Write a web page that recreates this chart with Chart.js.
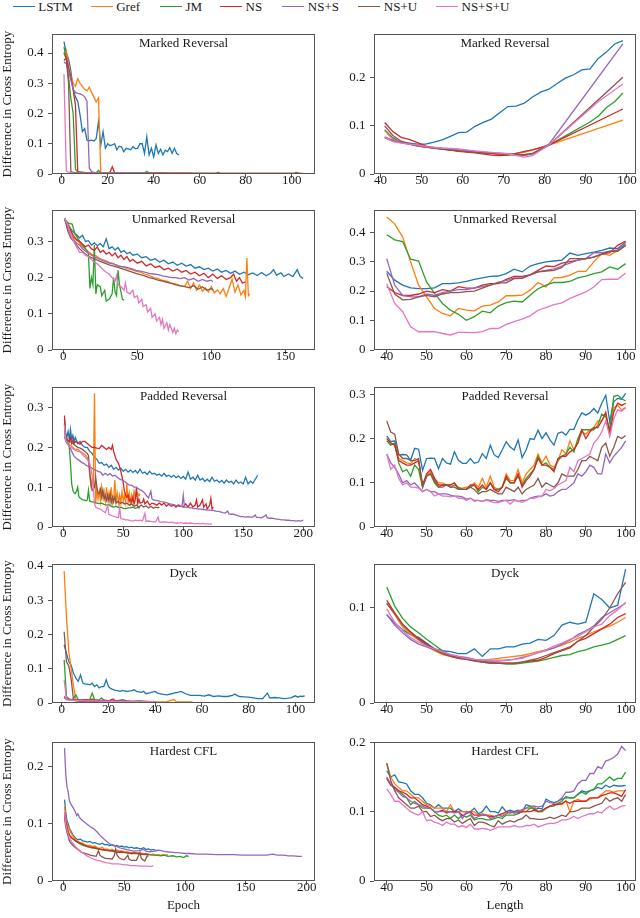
<!DOCTYPE html>
<html>
<head>
<meta charset="utf-8">
<script src="https://cdn.jsdelivr.net/npm/chart.js@4.4.1/dist/chart.umd.min.js"></script>
<style>
  html, body { margin: 0; background: #fff; }
  body { position: relative; width: 640px; height: 918px; overflow: hidden; font-family: "Liberation Serif", serif; color: #1a1a1a; }
  canvas { position: absolute; }
  .key { position: absolute; top: 0; height: 14px; font-size: 13px; line-height: 14px; white-space: nowrap; }
  .key i { position: absolute; top: 6px; width: 22px; height: 0; border-top: 1.4px solid; }
  .key span { position: absolute; left: 25.5px; top: 0; }
</style>
</head>
<body>
<script>
const SERIES = ["LSTM", "Gref", "JM", "NS", "NS+S", "NS+U", "NS+S+U"];
const COLORS = ["#1f77b4", "#ff7f0e", "#2ca02c", "#d62728", "#9467bd", "#8c564b", "#e377c2"];

// lengths used by the right-hand panels
const LEN_1 = [40,41,42,43,44,45,46,47,48,49,50,51,52,53,54,55,56,57,58,59,60,61,62,63,64,65,66,67,68,69,70,
  71,72,73,74,75,76,77,78,79,80,81,82,83,84,85,86,87,88,89,90,91,92,93,94,95,96,97,98,99,100];
const LEN_2 = [40,42,44,46,48,50,52,54,56,58,60,62,64,66,68,70,72,74,76,78,80,82,84,86,88,90,92,94,96,98,100];

// tick labels
const Y_04 = [0, 0.1, 0.2, 0.3, 0.4];
const Y_03 = [0, 0.1, 0.2, 0.3];
const Y_02 = [0, 0.1, 0.2];
const Y_01 = [0, 0.1];
const X_EPOCH_100 = [0, 20, 40, 60, 80, 100];
const X_EPOCH_150 = [0, 50, 100, 150];
const X_EPOCH_200 = [0, 50, 100, 150, 200];
const X_LENGTH = [40, 50, 60, 70, 80, 90, 100];

// ---- Marked Reversal: [epoch, value] per series
const MARKED_EPOCH = [
  [[1,.438],[2,.40],[3,.38],[4,.34],[5,.28],[6,.255],[7,.24],[8,.195],[9,.14],[10,.15],[11,.112],[12,.11],[13,.112],[14,.109],[15,.117],[16,.173],[17,.096],[18,.14],[19,.085],[20,.1],[21,.094],[22,.096],[23,.1],[24,.08],[25,.092],[26,.09],[27,.074],[28,.085],[29,.083],[30,.08],[31,.09],[32,.084],[33,.085],[34,.1],[35,.1],[36,.068],[37,.123],[38,.063],[39,.085],[40,.057],[41,.096],[42,.068],[43,.082],[44,.063],[45,.079],[46,.074],[47,.087],[48,.068],[49,.085],[50,.068],[51,.063]],
  [[1,.40],[2,.41],[3,.36],[4,.325],[5,.30],[6,.29],[7,.315],[8,.30],[9,.29],[10,.28],[11,.275],[12,.287],[13,.27],[14,.255],[15,.238],[16,.252],[17,.004],[20,.004],[25,.003],[30,.002],[40,.002],[50,.002],[57,.002]],
  [[1,.42],[2,.385],[3,.32],[4,.25],[5,.2],[6,.015],[7,.008],[10,.005],[15,.004],[16,.012],[17,.004],[25,.003],[36,.003],[37,.009],[38,.003],[45,.002]],
  [[1,.375],[2,.385],[3,.35],[4,.32],[5,.28],[6,.227],[7,.006],[10,.004],[20,.004],[21,.006],[22,.024],[23,.004],[30,.003],[50,.003],[70,.002],[90,.002],[104,.002]],
  [[1,.37],[2,.365],[3,.34],[4,.31],[5,.28],[6,.27],[7,.267],[8,.265],[9,.262],[10,.255],[11,.24],[12,.02],[13,.008],[15,.004],[20,.003],[30,.003],[40,.002]],
  [[1,.40],[2,.38],[3,.30],[4,.008],[5,.005],[10,.003],[30,.003],[67,.002],[68,.005],[69,.002],[101,.002],[102,.005],[103,.002],[105,.002]],
  [[1,.33],[2,.01],[3,.006],[5,.004],[10,.003],[20,.003],[40,.002]]
];

// ---- Marked Reversal: [length, value] per series
const MARKED_LENGTH = [
  [[41,.092],[43,.075],[45,.066],[47,.064],[49,.062],[51,.062],[53,.066],[55,.071],[57,.078],[59,.086],[61,.087],[63,.099],[65,.107],[67,.114],[69,.127],[71,.14],[73,.141],[75,.147],[77,.16],[79,.17],[81,.176],[83,.188],[85,.199],[87,.206],[89,.216],[91,.218],[93,.24],[95,.253],[97,.27],[99,.277]],
  [[41,.09],[43,.072],[45,.066],[47,.062],[49,.058],[51,.056],[55,.052],[59,.048],[63,.045],[67,.042],[71,.04],[75,.045],[77,.05],[81,.06],[99,.112]],
  [[41,.075],[43,.069],[45,.065],[47,.062],[49,.059],[51,.056],[55,.052],[59,.048],[63,.045],[67,.043],[71,.041],[75,.04],[77,.042],[81,.06],[91,.108],[93,.12],[95,.138],[97,.15],[99,.168]],
  [[41,.107],[43,.088],[45,.076],[47,.072],[49,.065],[51,.058],[55,.052],[59,.047],[63,.044],[67,.039],[69,.038],[71,.039],[73,.043],[75,.047],[77,.05],[79,.055],[81,.06],[99,.135]],
  [[41,.077],[43,.07],[45,.065],[47,.062],[49,.058],[51,.056],[55,.053],[59,.05],[63,.047],[67,.044],[71,.042],[75,.038],[77,.042],[81,.062],[99,.27]],
  [[41,.1],[43,.08],[45,.068],[47,.063],[49,.059],[51,.056],[55,.051],[59,.048],[63,.045],[67,.043],[71,.04],[75,.04],[77,.043],[81,.06],[99,.201]],
  [[41,.076],[43,.067],[45,.064],[47,.062],[49,.06],[51,.057],[55,.054],[59,.052],[63,.048],[67,.045],[71,.042],[75,.035],[77,.038],[81,.06],[93,.15],[99,.187]]
];

// ---- Unmarked Reversal: [epoch, value]
const UNMARKED_EPOCH = [
  [[1,.362],[3,.35],[5,.335],[7,.325],[9,.318],[11,.31],[13,.317],[15,.3],[17,.302],[19,.29],[21,.296],[23,.288],[25,.294],[27,.285],[29,.307],[31,.28],[33,.285],[35,.276],[37,.283],[39,.27],[41,.275],[43,.266],[45,.27],[47,.262],[50,.265],[53,.255],[56,.258],[59,.248],[62,.252],[65,.243],[68,.248],[71,.238],[74,.243],[77,.234],[80,.24],[83,.232],[86,.236],[89,.226],[92,.23],[95,.222],[98,.226],[101,.218],[104,.224],[107,.215],[110,.22],[113,.212],[116,.218],[119,.209],[122,.215],[125,.208],[128,.213],[131,.206],[134,.214],[137,.205],[140,.212],[142,.222],[144,.207],[147,.213],[149,.203],[152,.21],[155,.203],[158,.222],[160,.203],[162,.198]],
  [[1,.362],[3,.35],[5,.33],[7,.31],[10,.3],[13,.285],[16,.275],[19,.265],[22,.26],[25,.252],[28,.248],[31,.242],[34,.238],[37,.232],[40,.23],[43,.225],[46,.222],[49,.218],[52,.215],[55,.21],[58,.206],[61,.2],[64,.198],[67,.192],[70,.19],[73,.185],[76,.183],[79,.178],[82,.176],[84,.19],[86,.17],[88,.185],[90,.165],[92,.18],[94,.162],[96,.172],[98,.16],[100,.175],[102,.158],[104,.166],[106,.155],[108,.17],[110,.148],[112,.172],[114,.195],[116,.16],[118,.18],[120,.152],[122,.165],[123,.148],[124,.254],[125,.15],[126,.155]],
  [[1,.362],[2,.355],[4,.35],[6,.348],[8,.32],[10,.307],[12,.295],[14,.285],[16,.275],[17,.265],[18,.17],[19,.2],[20,.18],[21,.29],[22,.155],[23,.18],[25,.175],[26,.15],[28,.165],[29,.135],[31,.14],[33,.155],[34,.2],[35,.16],[36,.15],[37,.22],[38,.18],[40,.14],[41,.138]],
  [[1,.362],[3,.345],[5,.33],[7,.315],[9,.305],[11,.3],[13,.292],[15,.285],[17,.29],[19,.28],[21,.275],[23,.285],[25,.27],[27,.275],[29,.265],[31,.27],[33,.26],[35,.268],[37,.255],[39,.262],[41,.25],[43,.258],[45,.245],[47,.25],[50,.24],[53,.245],[56,.232],[59,.238],[62,.228],[65,.232],[68,.222],[71,.226],[74,.218],[77,.224],[80,.215],[83,.22],[86,.21],[89,.215],[92,.205],[95,.212],[98,.2],[101,.21],[104,.198],[107,.205],[110,.195],[113,.2],[115,.21],[117,.19],[119,.2],[121,.185],[123,.188]],
  [[1,.362],[3,.34],[5,.32],[7,.305],[9,.295],[11,.29],[13,.28],[16,.27],[19,.262],[22,.255],[25,.25],[28,.245],[31,.24],[34,.238],[37,.233],[40,.23],[43,.228],[46,.225],[49,.22],[52,.218],[55,.215],[58,.212],[61,.21],[64,.208],[67,.205],[70,.203],[73,.2],[76,.2],[79,.197],[82,.2],[85,.193],[88,.198],[91,.19],[94,.195],[97,.19],[100,.193],[101,.188]],
  [[1,.362],[3,.33],[5,.31],[7,.3],[9,.29],[11,.28],[13,.272],[16,.262],[19,.255],[22,.25],[25,.245],[28,.24],[31,.235],[34,.232],[37,.228],[40,.224],[43,.22],[46,.216],[49,.212],[52,.208],[55,.205],[58,.2],[61,.197],[64,.193],[67,.19],[70,.187],[73,.184],[76,.18],[79,.177],[82,.175],[85,.172],[88,.178],[91,.168],[94,.175],[97,.165],[100,.17],[101,.165]],
  [[1,.365],[3,.345],[5,.32],[7,.3],[9,.285],[11,.27],[13,.27],[15,.262],[17,.258],[19,.25],[21,.242],[23,.238],[25,.23],[27,.222],[29,.215],[31,.21],[33,.2],[35,.19],[36,.205],[37,.18],[39,.175],[41,.165],[42,.185],[43,.16],[45,.155],[47,.165],[48,.145],[50,.15],[51,.13],[53,.14],[54,.12],[56,.125],[57,.105],[59,.115],[60,.09],[62,.1],[63,.08],[65,.09],[66,.07],[67,.085],[68,.06],[70,.075],[71,.055],[72,.07],[74,.048],[75,.06],[76,.045],[77,.055],[78,.05]]
];

// ---- Unmarked Reversal: values at LEN_2
const UNMARKED_LENGTH = [
  [.267,.237,.22,.211,.208,.208,.211,.225,.225,.228,.233,.24,.245,.25,.251,.259,.274,.265,.285,.293,.299,.302,.305,.329,.321,.327,.332,.338,.346,.344,.366],
  [.451,.428,.383,.299,.22,.18,.141,.124,.116,.141,.135,.133,.149,.152,.163,.184,.184,.186,.203,.229,.214,.245,.246,.254,.267,.267,.299,.327,.321,.338,.355],
  [.391,.374,.368,.308,.302,.231,.192,.158,.135,.121,.101,.113,.132,.126,.149,.161,.166,.163,.186,.208,.22,.229,.229,.233,.245,.251,.259,.265,.282,.274,.293],
  [.215,.195,.185,.185,.19,.2,.195,.205,.2,.215,.21,.21,.22,.225,.225,.24,.25,.25,.255,.27,.285,.283,.295,.3,.305,.31,.315,.325,.33,.355,.37],
  [.31,.22,.185,.18,.18,.19,.185,.195,.2,.205,.205,.21,.215,.22,.23,.235,.245,.245,.255,.265,.27,.275,.285,.295,.305,.31,.33,.33,.335,.34,.36],
  [.26,.19,.17,.172,.18,.185,.18,.19,.195,.195,.198,.2,.21,.22,.228,.228,.242,.243,.255,.265,.268,.27,.28,.31,.31,.31,.315,.325,.335,.335,.355],
  [.225,.158,.13,.079,.062,.062,.062,.056,.051,.06,.06,.059,.062,.073,.073,.087,.096,.105,.116,.135,.144,.154,.16,.175,.186,.197,.214,.239,.24,.24,.261]
];

// ---- Padded Reversal: [epoch, value]
const PADDED_EPOCH = [
  [[1,.27],[2,.235],[3,.225],[4,.24],[5,.22],[6,.245],[7,.22],[8,.23],[9,.215],[10,.225],[12,.21],[14,.215],[16,.205],[18,.2],[20,.2],[22,.19],[24,.185],[26,.175],[28,.17],[30,.16],[32,.162],[34,.155],[36,.158],[38,.15],[40,.155],[42,.145],[44,.15],[46,.143],[48,.148],[50,.14],[52,.145],[54,.138],[56,.143],[58,.137],[60,.142],[62,.135],[64,.145],[66,.135],[68,.138],[70,.132],[72,.14],[74,.133],[76,.135],[78,.13],[80,.133],[82,.128],[84,.135],[86,.127],[88,.13],[90,.125],[92,.13],[94,.124],[96,.128],[98,.122],[100,.127],[102,.12],[104,.138],[106,.12],[108,.125],[110,.118],[112,.13],[114,.118],[116,.122],[118,.115],[120,.12],[122,.114],[124,.125],[126,.115],[128,.118],[130,.112],[132,.117],[134,.11],[136,.118],[138,.112],[140,.115],[142,.108],[144,.118],[146,.11],[148,.113],[150,.108],[152,.125],[154,.108],[156,.115],[158,.11],[160,.12],[162,.13]],
  [[1,.26],[2,.22],[4,.212],[6,.205],[8,.2],[10,.195],[12,.195],[14,.19],[16,.186],[18,.182],[20,.175],[21,.165],[22,.13],[23,.105],[24,.12],[25,.1],[26,.336],[27,.06],[28,.095],[29,.07],[30,.09],[31,.065],[32,.1],[33,.075],[34,.09],[35,.065],[36,.1],[37,.07],[38,.085],[39,.065],[40,.1],[41,.06],[42,.075],[43,.118],[44,.065],[45,.085],[46,.06],[47,.08],[48,.06],[49,.09],[50,.065],[51,.08],[52,.06],[53,.11],[54,.065],[55,.085],[56,.06],[57,.08],[58,.065],[59,.09],[60,.07],[61,.08],[62,.085],[63,.078],[64,.084]],
  [[1,.227],[2,.218],[3,.212],[4,.21],[5,.2],[6,.16],[7,.109],[8,.092],[9,.086],[10,.084],[11,.09],[12,.1],[13,.076],[14,.073],[15,.071],[16,.068],[17,.068],[18,.067],[19,.066],[20,.068],[21,.092],[22,.065],[23,.064],[24,.063],[25,.063],[26,.061],[28,.06],[30,.059],[32,.06],[34,.057],[36,.055],[38,.056],[40,.052],[42,.05],[44,.052],[46,.049],[48,.05],[50,.047],[52,.046],[54,.048],[56,.048],[58,.05],[60,.047],[62,.049],[64,.048]],
  [[1,.28],[2,.227],[3,.222],[4,.218],[5,.215],[6,.225],[7,.21],[8,.218],[9,.21],[10,.215],[12,.212],[14,.208],[16,.215],[18,.215],[20,.21],[22,.205],[24,.2],[26,.2],[28,.198],[30,.197],[32,.205],[34,.2],[36,.195],[38,.2],[40,.195],[41,.205],[42,.19],[44,.17],[46,.16],[48,.14],[50,.11],[51,.09],[52,.08],[53,.075],[54,.08],[55,.065],[56,.07],[57,.062],[58,.075],[59,.058],[60,.07],[61,.1],[62,.058],[63,.07],[64,.06],[66,.062],[67,.07],[68,.058],[70,.065],[72,.055],[74,.06],[76,.058],[78,.055],[80,.06],[82,.055],[84,.06],[86,.052],[88,.058],[90,.052],[92,.055],[94,.05],[96,.056],[98,.052],[100,.05],[102,.058],[104,.05],[106,.06],[108,.05],[110,.055],[111,.068],[112,.05],[114,.055],[116,.068],[117,.05],[119,.058],[120,.045],[122,.055],[123,.072],[124,.045],[125,.05]],
  [[1,.255],[2,.218],[3,.21],[5,.205],[7,.19],[9,.178],[11,.172],[13,.168],[15,.163],[17,.16],[19,.155],[21,.152],[23,.15],[25,.145],[27,.143],[29,.14],[31,.138],[33,.13],[35,.135],[37,.13],[39,.134],[41,.128],[43,.13],[45,.125],[47,.12],[49,.118],[51,.115],[53,.11],[55,.105],[57,.105],[59,.1],[61,.1],[63,.095],[65,.092],[67,.088],[69,.08],[71,.073],[73,.09],[74,.07],[75,.068],[77,.067],[79,.066],[81,.064],[83,.063],[85,.062],[87,.06],[89,.058],[91,.057],[93,.055],[95,.053],[97,.052],[99,.052],[100,.08],[101,.05],[103,.05],[105,.048],[107,.048],[109,.046],[111,.046],[113,.045],[115,.045],[117,.044],[119,.043],[121,.043],[123,.042],[125,.042],[127,.04],[129,.039],[131,.038],[133,.036],[135,.035],[137,.04],[138,.033],[140,.032],[142,.032],[144,.03],[146,.028],[148,.026],[150,.026],[152,.025],[154,.026],[156,.025],[158,.025],[160,.03],[161,.024],[163,.024],[165,.023],[167,.026],[169,.03],[170,.023],[172,.022],[174,.022],[176,.021],[178,.02],[180,.019],[182,.018],[184,.018],[186,.017],[188,.017],[190,.016],[192,.016],[194,.015],[196,.016],[198,.015],[200,.017]],
  [[1,.26],[2,.223],[4,.215],[6,.214],[8,.21],[10,.205],[12,.2],[14,.198],[16,.195],[18,.19],[20,.185],[21,.18],[22,.143],[23,.11],[24,.092],[25,.095],[26,.1],[27,.126],[28,.1],[29,.085],[30,.084],[31,.095],[32,.075],[33,.092],[34,.07],[35,.08],[36,.067],[37,.08],[38,.065],[39,.084],[40,.062],[41,.075],[42,.063],[43,.076],[44,.06],[46,.065],[47,.059],[49,.062],[51,.058],[53,.06],[55,.055],[57,.058],[59,.052],[61,.055],[63,.05],[65,.055],[67,.05],[69,.053],[71,.048],[73,.052],[75,.047],[77,.05],[79,.048],[80,.05]],
  [[1,.256],[2,.218],[4,.206],[6,.2],[8,.197],[10,.193],[12,.19],[14,.189],[16,.182],[18,.176],[20,.17],[22,.16],[24,.13],[25,.1],[26,.059],[27,.05],[29,.047],[31,.045],[33,.04],[35,.036],[37,.055],[38,.032],[40,.029],[42,.027],[44,.025],[46,.024],[47,.05],[48,.021],[50,.02],[52,.018],[54,.018],[56,.016],[58,.015],[60,.017],[62,.016],[64,.017],[66,.015],[68,.034],[69,.014],[71,.015],[73,.014],[75,.013],[77,.013],[79,.025],[80,.013],[82,.012],[84,.013],[86,.012],[88,.011],[90,.012],[92,.011],[94,.01],[96,.01],[98,.011],[100,.009],[102,.01],[104,.009],[106,.01],[108,.009],[110,.008],[112,.009],[114,.008],[116,.009],[118,.008],[120,.008],[122,.007],[124,.007]]
];

// ---- Padded Reversal: values at LEN_1
const PADDED_LENGTH = [
  [.206,.193,.195,.163,.164,.163,.151,.178,.176,.128,.155,.156,.155,.132,.155,.145,.142,.17,.151,.144,.144,.155,.144,.147,.166,.155,.185,.163,.157,.174,.193,.181,.174,.197,.157,.174,.2,.198,.219,.2,.213,.197,.185,.212,.215,.208,.221,.221,.242,.258,.253,.258,.268,.258,.28,.298,.238,.283,.291,.289,.302],
  [.2,.19,.185,.155,.15,.145,.143,.155,.15,.095,.115,.125,.11,.1,.1,.095,.095,.1,.088,.088,.09,.09,.1,.09,.11,.09,.115,.09,.085,.09,.12,.105,.105,.13,.1,.12,.13,.14,.165,.145,.16,.14,.135,.15,.175,.165,.195,.175,.19,.215,.21,.22,.225,.24,.24,.255,.215,.27,.275,.265,.27],
  [.195,.185,.19,.145,.125,.13,.115,.14,.13,.09,.115,.12,.1,.09,.095,.095,.09,.095,.09,.085,.085,.09,.095,.08,.09,.085,.1,.085,.085,.09,.11,.1,.1,.115,.095,.11,.12,.13,.16,.14,.145,.135,.13,.15,.16,.165,.18,.17,.2,.22,.22,.22,.22,.23,.255,.25,.22,.295,.298,.29,.285],
  [.2,.19,.185,.15,.145,.14,.14,.145,.15,.095,.12,.13,.11,.095,.095,.095,.095,.1,.085,.085,.085,.095,.095,.085,.095,.085,.1,.085,.08,.09,.115,.1,.1,.12,.09,.105,.115,.13,.155,.14,.14,.135,.125,.155,.16,.16,.17,.175,.19,.22,.2,.215,.225,.225,.24,.26,.21,.26,.28,.275,.28],
  [.165,.145,.135,.12,.1,.105,.095,.1,.09,.08,.085,.08,.08,.075,.075,.075,.072,.07,.07,.068,.063,.065,.06,.06,.058,.062,.06,.06,.058,.06,.06,.06,.062,.058,.06,.06,.065,.068,.07,.07,.075,.07,.072,.08,.085,.085,.092,.1,.12,.115,.125,.14,.135,.12,.12,.165,.145,.16,.17,.18,.195],
  [.24,.215,.21,.165,.155,.155,.15,.15,.155,.09,.115,.12,.105,.09,.09,.095,.09,.09,.085,.085,.085,.09,.085,.075,.08,.08,.085,.08,.075,.075,.09,.085,.08,.09,.075,.085,.09,.095,.11,.09,.1,.095,.09,.1,.12,.115,.115,.115,.13,.15,.15,.16,.155,.15,.18,.19,.16,.18,.205,.2,.207],
  [.165,.13,.14,.11,.095,.1,.09,.09,.088,.08,.085,.08,.07,.075,.07,.07,.068,.07,.065,.065,.06,.065,.058,.06,.058,.06,.058,.055,.055,.058,.06,.052,.06,.058,.056,.06,.065,.065,.068,.07,.085,.082,.087,.095,.1,.105,.135,.125,.15,.155,.16,.165,.19,.2,.215,.24,.205,.245,.265,.262,.27]
];

// ---- Dyck: [epoch, value]
const DYCK_EPOCH = [
  [[1,.17],[2,.145],[3,.121],[4,.11],[5,.087],[6,.073],[7,.063],[8,.082],[9,.058],[10,.055],[11,.055],[12,.053],[13,.058],[14,.048],[15,.053],[16,.044],[17,.048],[18,.048],[19,.068],[20,.048],[21,.042],[22,.039],[23,.037],[24,.036],[25,.034],[26,.037],[27,.035],[28,.034],[30,.036],[31,.039],[32,.034],[34,.031],[35,.034],[36,.027],[38,.03],[40,.034],[41,.029],[43,.026],[45,.024],[47,.027],[48,.029],[50,.032],[51,.034],[53,.027],[55,.022],[57,.022],[59,.022],[61,.02],[63,.024],[65,.019],[67,.021],[69,.019],[71,.019],[73,.022],[74,.026],[76,.019],[78,.018],[80,.017],[82,.015],[84,.013],[86,.013],[88,.029],[89,.015],[91,.016],[93,.015],[95,.013],[97,.014],[98,.015],[100,.021],[101,.017],[102,.02],[103,.019],[104,.021]],
  [[1,.385],[2,.25],[3,.15],[4,.1],[5,.05],[6,.01],[7,.008],[9,.007],[12,.006],[15,.005],[20,.005],[25,.004],[30,.004],[35,.003],[40,.003],[45,.004],[48,.01],[49,.004],[52,.003],[56,.003]],
  [[1,.126],[2,.019],[3,.012],[4,.01],[5,.012],[6,.024],[7,.01],[8,.009],[10,.008],[12,.01],[13,.029],[14,.01],[16,.009],[17,.015],[18,.008],[20,.007],[22,.006],[24,.007],[26,.01],[28,.006],[30,.005],[33,.006],[36,.005],[40,.004]],
  [[1,.019],[2,.012],[4,.01],[6,.009],[8,.008],[10,.01],[12,.008],[13,.012],[14,.008],[16,.007],[18,.008],[20,.006],[22,.012],[23,.006],[26,.006],[30,.005],[34,.005],[38,.004],[40,.004]],
  [[1,.016],[2,.01],[4,.009],[6,.008],[8,.008],[10,.007],[14,.006],[18,.006],[22,.005],[26,.005],[30,.004],[35,.004],[40,.003]],
  [[1,.208],[2,.12],[3,.108],[4,.07],[5,.01],[6,.006],[8,.005],[12,.004],[16,.004],[20,.004],[25,.003],[30,.003],[35,.003],[40,.003]],
  [[1,.068],[2,.01],[4,.008],[6,.007],[8,.007],[10,.006],[14,.006],[18,.005],[22,.005],[26,.005],[30,.004],[35,.004],[40,.004]]
];

// ---- Dyck: values at LEN_2
const DYCK_LENGTH = [
  [.093,.084,.077,.072,.069,.063,.057,.055,.054,.052,.052,.057,.049,.057,.057,.059,.059,.062,.063,.067,.066,.071,.082,.085,.083,.085,.115,.109,.1,.103,.141],
  [.105,.093,.08,.072,.066,.06,.055,.051,.049,.047,.046,.045,.045,.046,.047,.048,.049,.05,.052,.054,.056,.058,.061,.064,.068,.071,.075,.078,.081,.085,.09],
  [.122,.102,.089,.08,.074,.067,.061,.055,.05,.048,.046,.045,.044,.043,.042,.041,.041,.042,.043,.044,.046,.048,.05,.051,.054,.056,.059,.061,.063,.067,.071],
  [.108,.095,.083,.075,.068,.062,.057,.053,.05,.048,.047,.045,.043,.042,.042,.042,.042,.043,.044,.045,.048,.052,.055,.058,.065,.068,.073,.078,.083,.09,.094],
  [.093,.082,.074,.067,.062,.059,.056,.054,.051,.049,.048,.046,.045,.044,.044,.045,.046,.048,.05,.053,.055,.058,.062,.066,.072,.076,.081,.09,.095,.1,.105],
  [.105,.094,.082,.074,.067,.061,.056,.052,.049,.047,.046,.044,.043,.042,.042,.042,.042,.043,.045,.047,.05,.053,.056,.059,.065,.071,.08,.088,.1,.115,.127],
  [.099,.085,.076,.069,.064,.06,.057,.054,.051,.049,.047,.046,.045,.045,.045,.045,.046,.047,.05,.053,.056,.06,.063,.067,.07,.075,.08,.083,.092,.098,.106]
];

// ---- Hardest CFL: [epoch, value]
const HARDEST_EPOCH = [
  [[1,.142],[2,.12],[3,.105],[4,.1],[5,.092],[6,.088],[8,.08],[10,.075],[12,.072],[14,.073],[16,.07],[18,.069],[20,.068],[22,.069],[24,.066],[26,.067],[28,.065],[30,.064],[32,.066],[34,.063],[36,.064],[38,.062],[40,.063],[42,.061],[44,.062],[46,.06],[48,.061],[50,.059],[52,.06],[54,.058],[56,.059],[58,.057],[60,.058],[62,.057],[64,.056],[66,.058],[68,.055],[70,.056],[72,.054],[74,.055],[76,.053],[78,.054]],
  [[1,.13],[2,.11],[3,.1],[4,.095],[6,.085],[8,.078],[10,.072],[12,.069],[14,.067],[16,.066],[18,.063],[20,.062],[22,.062],[24,.06],[26,.061],[28,.058],[30,.057],[32,.059],[34,.055],[36,.056],[38,.054],[40,.055],[42,.053],[44,.054],[46,.052],[48,.053],[50,.05],[52,.051],[54,.05],[56,.049],[58,.05],[60,.048],[62,.049],[64,.048],[66,.047],[68,.048],[70,.047],[72,.046],[74,.047],[76,.045],[78,.046],[80,.045],[82,.046],[84,.045],[86,.046]],
  [[1,.115],[2,.1],[3,.09],[4,.085],[5,.08],[7,.075],[10,.07],[12,.067],[15,.063],[18,.061],[20,.06],[23,.058],[26,.057],[30,.055],[33,.054],[36,.053],[40,.052],[43,.051],[46,.05],[50,.05],[53,.049],[56,.048],[60,.048],[63,.047],[66,.046],[70,.046],[73,.045],[76,.045],[80,.044],[83,.045],[86,.043],[90,.044],[93,.042],[96,.043],[99,.041],[101,.044],[103,.043]],
  [[1,.12],[2,.105],[3,.095],[4,.088],[5,.08],[7,.075],[10,.07],[12,.068],[15,.065],[18,.062],[20,.06],[23,.059],[26,.058],[29,.056],[32,.055],[35,.054],[38,.053],[41,.053],[44,.05],[47,.051],[50,.05],[53,.049],[56,.048],[59,.049],[62,.048],[65,.047],[68,.047],[70,.046]],
  [[1,.232],[2,.187],[3,.164],[4,.155],[5,.14],[6,.135],[8,.128],[10,.12],[11,.114],[12,.117],[13,.112],[14,.109],[16,.105],[19,.1],[22,.095],[25,.091],[28,.085],[30,.08],[34,.072],[38,.065],[42,.062],[46,.058],[50,.056],[54,.054],[58,.052],[62,.053],[66,.055],[68,.052],[71,.051],[75,.052],[79,.054],[82,.052],[85,.051],[90,.05],[96,.049],[100,.048],[104,.048],[110,.047],[118,.047],[126,.046],[133,.046],[140,.046],[147,.045],[153,.045],[160,.045],[167,.045],[172,.047],[176,.045],[181,.045],[185,.044],[189,.044],[193,.043],[196,.043]],
  [[1,.11],[2,.095],[3,.085],[4,.078],[5,.07],[7,.064],[10,.058],[12,.055],[15,.05],[18,.048],[20,.047],[22,.045],[25,.044],[27,.043],[28,.048],[29,.053],[30,.045],[32,.042],[34,.04],[36,.039],[38,.039],[40,.038],[42,.045],[43,.056],[44,.046],[46,.04],[48,.038],[50,.037],[52,.042],[53,.045],[54,.038],[56,.036],[58,.036],[60,.036],[62,.045],[63,.05],[64,.04],[66,.036],[67,.035],[68,.04],[69,.044],[70,.043]],
  [[1,.12],[2,.1],[3,.09],[4,.082],[5,.075],[7,.068],[10,.06],[12,.056],[15,.05],[18,.046],[20,.043],[22,.041],[25,.038],[28,.036],[30,.035],[32,.034],[35,.032],[38,.031],[40,.03],[43,.03],[45,.03],[48,.029],[50,.028],[53,.028],[55,.027],[58,.027],[60,.027],[63,.026],[65,.026],[68,.026],[70,.026],[72,.025],[74,.027]]
];

// ---- Hardest CFL: values at LEN_1
const HARDEST_LENGTH = [
  [.159,.15,.153,.143,.142,.14,.13,.125,.125,.12,.112,.11,.105,.11,.105,.105,.105,.1,.104,.1,.1,.1,.105,.097,.1,.108,.1,.1,.098,.107,.1,.102,.1,.102,.1,.11,.108,.103,.105,.104,.118,.115,.113,.115,.118,.12,.12,.12,.125,.13,.128,.13,.132,.135,.133,.138,.135,.138,.137,.137,.138],
  [.17,.15,.14,.135,.13,.13,.125,.12,.12,.115,.11,.108,.105,.105,.105,.1,.11,.1,.1,.1,.1,.1,.1,.095,.097,.095,.095,.093,.095,.095,.097,.1,.098,.1,.1,.105,.105,.108,.1,.1,.105,.108,.11,.112,.11,.116,.1,.115,.118,.115,.115,.118,.12,.12,.125,.13,.13,.128,.13,.13,.13],
  [.148,.14,.135,.13,.125,.12,.11,.115,.11,.105,.105,.105,.1,.095,.093,.095,.09,.095,.09,.095,.092,.095,.088,.09,.09,.088,.088,.09,.092,.09,.095,.095,.095,.097,.1,.1,.105,.105,.1,.1,.105,.108,.108,.112,.115,.122,.12,.12,.125,.128,.125,.13,.132,.14,.14,.145,.15,.145,.148,.148,.157],
  [.148,.138,.135,.13,.128,.125,.12,.12,.115,.11,.108,.105,.1,.1,.102,.098,.1,.1,.1,.094,.097,.1,.095,.095,.095,.095,.093,.093,.095,.097,.1,.098,.1,.098,.1,.1,.1,.102,.1,.102,.105,.108,.11,.11,.112,.115,.112,.115,.115,.115,.115,.12,.12,.12,.123,.125,.127,.127,.125,.122,.132],
  [.15,.14,.132,.128,.122,.12,.115,.112,.11,.108,.105,.105,.1,.1,.1,.1,.1,.098,.1,.09,.1,.098,.09,.093,.095,.095,.09,.092,.095,.093,.097,.1,.098,.1,.103,.105,.108,.108,.107,.108,.115,.113,.112,.115,.12,.128,.128,.13,.14,.145,.145,.155,.155,.165,.162,.173,.175,.178,.183,.194,.188],
  [.17,.145,.13,.12,.115,.11,.105,.105,.108,.1,.1,.093,.095,.09,.087,.09,.09,.085,.088,.083,.087,.09,.08,.085,.085,.083,.08,.078,.087,.082,.085,.087,.085,.088,.09,.095,.09,.09,.089,.089,.09,.092,.09,.092,.095,.093,.1,.1,.102,.105,.105,.105,.108,.11,.112,.12,.115,.118,.12,.115,.125],
  [.133,.125,.115,.115,.11,.105,.1,.097,.095,.1,.087,.088,.085,.083,.08,.085,.082,.082,.078,.08,.077,.082,.075,.075,.076,.075,.073,.075,.078,.078,.078,.078,.08,.078,.078,.08,.08,.082,.078,.08,.082,.083,.083,.085,.088,.088,.09,.093,.09,.093,.095,.097,.097,.1,.098,.104,.108,.103,.105,.108,.109]
];

// ---- layout of the 5x2 grid (plot-area pixels)
const ROW_TOP = [34, 210, 387, 564, 742];
const ROW_BOTTOM = [174, 350, 527, 703, 881];
const COL_LEFT = [52, 374];
const COL_RIGHT = [315, 636];
const LEGEND_X = [12.7, 90.7, 160, 220, 282.3, 358.3, 436];

const PANELS = [
  { title: "Marked Reversal", row: 0, col: 0, pts: MARKED_EPOCH, x: [-4.2, 110.1], ymax: 0.462, xt: X_EPOCH_100, yt: Y_04 },
  { title: "Marked Reversal", row: 0, col: 1, pts: MARKED_LENGTH, x: [38.4, 102.2], ymax: 0.29, xt: X_LENGTH, yt: Y_02 },
  { title: "Unmarked Reversal", row: 1, col: 0, pts: UNMARKED_EPOCH, x: [-7.6, 170], ymax: 0.386, xt: X_EPOCH_150, yt: Y_03 },
  { title: "Unmarked Reversal", row: 1, col: 1, vals: UNMARKED_LENGTH, len: LEN_2, x: [36.8, 102.6], ymax: 0.474, xt: X_LENGTH, yt: Y_04 },
  { title: "Padded Reversal", row: 2, col: 0, pts: PADDED_EPOCH, x: [-9.4, 209.8], ymax: 0.351, xt: X_EPOCH_200, yt: Y_03 },
  { title: "Padded Reversal", row: 2, col: 1, vals: PADDED_LENGTH, len: LEN_1, x: [36.8, 102.6], ymax: 0.316, xt: X_LENGTH, yt: Y_03 },
  { title: "Dyck", row: 3, col: 0, pts: DYCK_EPOCH, x: [-4.2, 108.4], ymax: 0.405, xt: X_EPOCH_100, yt: Y_04 },
  { title: "Dyck", row: 3, col: 1, vals: DYCK_LENGTH, len: LEN_2, x: [36.8, 102.6], ymax: 0.146, xt: X_LENGTH, yt: Y_01 },
  { title: "Hardest CFL", row: 4, col: 0, pts: HARDEST_EPOCH, x: [-9.3, 206.8], ymax: 0.242, xt: X_EPOCH_200, yt: Y_02, xlabel: "Epoch" },
  { title: "Hardest CFL", row: 4, col: 1, vals: HARDEST_LENGTH, len: LEN_1, x: [36.8, 102.6], ymax: 0.2, xt: X_LENGTH, yt: Y_02, xlabel: "Length" }
];

const INK = "#1a1a1a";
const FRAME = "#555555";
Chart.defaults.font.family = '"Liberation Serif", "Times New Roman", serif';
Chart.defaults.font.size = 13;
Chart.defaults.color = INK;

// box around the plot area + title inside it, as in the original figure
const panelFrame = {
  id: "panelFrame",
  afterDraw(chart, args, opts) {
    const { ctx, chartArea: a } = chart;
    ctx.save();
    ctx.strokeStyle = FRAME;
    ctx.lineWidth = 1;
    ctx.strokeRect(Math.round(a.left) + 0.5, Math.round(a.top) + 0.5, Math.round(a.width) - 1, Math.round(a.height) - 1);
    ctx.fillStyle = INK;
    ctx.font = '13px "Liberation Serif", serif';
    ctx.textAlign = "center";
    ctx.textBaseline = "alphabetic";
    ctx.fillText(opts.text, (a.left + a.right) / 2, a.top + 13);
    ctx.restore();
  }
};

// legend across the top
SERIES.forEach((name, i) => {
  const d = document.createElement("div");
  d.className = "key";
  d.style.left = LEGEND_X[i] + "px";
  d.innerHTML = '<i style="border-color:' + COLORS[i] + '"></i><span>' + name + "</span>";
  document.body.appendChild(d);
});

function buildPanel(p) {
  const cLeft = p.col * 320;
  const cTop = ROW_TOP[p.row] - 12;
  const cBottom = p.row === 4 ? 918 : ROW_BOTTOM[p.row] + 22;
  const canvas = document.createElement("canvas");
  canvas.width = 320;
  canvas.height = cBottom - cTop;
  canvas.style.left = cLeft + "px";
  canvas.style.top = cTop + "px";
  document.body.appendChild(canvas);

  const yAxisW = COL_LEFT[p.col] - cLeft;
  const xAxisH = cBottom - ROW_BOTTOM[p.row];
  const padRight = cLeft + 320 - COL_RIGHT[p.col];

  const datasets = SERIES.map((name, i) => {
    const data = p.pts
      ? p.pts[i].map(([x, y]) => ({ x, y }))
      : p.vals[i].map((y, k) => ({ x: p.len[k], y }));
    return {
      label: name,
      data,
      borderColor: COLORS[i],
      backgroundColor: COLORS[i],
      borderWidth: 1.3,
      pointRadius: 0,
      tension: 0,
      fill: false,
      order: SERIES.length - i
    };
  });

  const tickGrid = { display: true, drawOnChartArea: false, drawTicks: true, tickLength: 4, color: FRAME, lineWidth: 1 };

  new Chart(canvas, {
    type: "line",
    data: { datasets },
    plugins: [panelFrame],
    options: {
      responsive: false,
      animation: false,
      devicePixelRatio: 1,
      events: [],
      layout: { padding: { top: 12, right: padRight, bottom: 0, left: 0 } },
      plugins: {
        legend: { display: false },
        tooltip: { enabled: false },
        panelFrame: { text: p.title }
      },
      scales: {
        x: {
          type: "linear",
          min: p.x[0],
          max: p.x[1],
          grid: tickGrid,
          border: { display: false },
          ticks: { maxRotation: 0, autoSkip: false, padding: -5, color: INK, callback: (v) => v },
          afterBuildTicks: (s) => { s.ticks = p.xt.map((v) => ({ value: v })); },
          afterFit: (s) => { s.height = xAxisH; },
          title: p.xlabel
            ? { display: true, text: p.xlabel, color: INK, padding: { top: 0, bottom: 5 } }
            : { display: false }
        },
        y: {
          min: 0,
          max: p.ymax,
          grid: tickGrid,
          border: { display: false },
          ticks: { padding: 4.5, color: INK, callback: (v) => v },
          afterBuildTicks: (s) => { s.ticks = p.yt.map((v) => ({ value: v })); },
          afterFit: (s) => { s.width = yAxisW; },
          title: p.col === 0
            ? { display: true, text: "Difference in Cross Entropy", color: INK, padding: { top: 0, bottom: 0 } }
            : { display: false }
        }
      }
    }
  });
}

PANELS.forEach(buildPanel);
</script>
</body>
</html>
